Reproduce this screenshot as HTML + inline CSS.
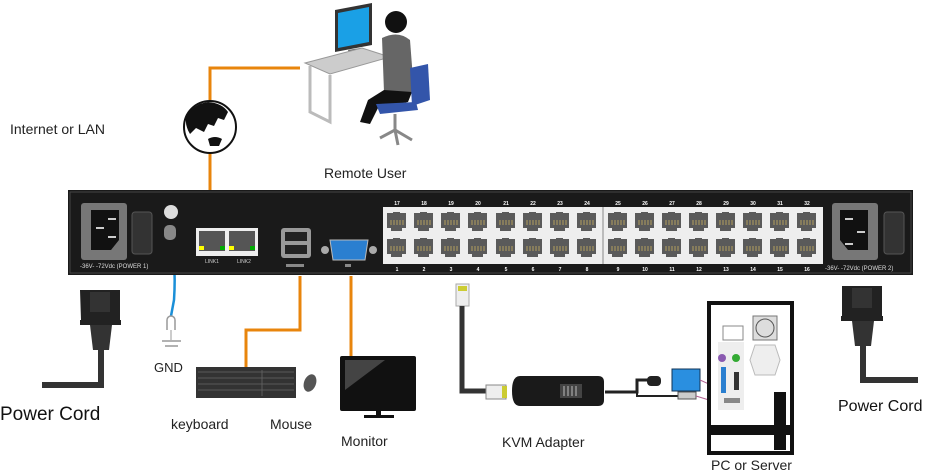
<!DOCTYPE html>
<html><head><meta charset="utf-8"><style>
html,body{margin:0;padding:0;background:#fff}
svg{display:block}
text{font-family:"Liberation Sans","DejaVu Sans",sans-serif}
</style></head><body>
<svg width="929" height="471" viewBox="0 0 929 471" xmlns="http://www.w3.org/2000/svg">
<defs>
<g id="port">
<rect x="0" y="0" width="23" height="22" fill="#eee"/>
<path d="M2 3 h6 v-1 h7 v1 h6 v15 h-4 v3 h-11 v-3 h-4z" fill="#5a5a5a"/>
<g stroke="#c8b060" stroke-width="0.8"><line x1="6" y1="10" x2="6" y2="15"/><line x1="9" y1="10" x2="9" y2="15"/><line x1="12" y1="10" x2="12" y2="15"/><line x1="15" y1="10" x2="15" y2="15"/><line x1="18" y1="10" x2="18" y2="15"/></g>
</g>
</defs>

<!-- orange connectors -->
<g stroke="#e8850c" stroke-width="3" fill="none">
<polyline points="300,68 210,68 210,100"/>
<line x1="210" y1="153" x2="210" y2="190"/>
<polyline points="246,368 246,330 300,330 300,276"/>
<line x1="351" y1="276" x2="351" y2="356"/>
</g>
<!-- blue GND wire -->
<path d="M172 240 Q176 270 174 300 L171 316" stroke="#1a8fd8" stroke-width="2.5" fill="none"/>

<!-- globe -->
<circle cx="210" cy="127" r="26" fill="#fff" stroke="#111" stroke-width="2"/>
<path d="M186 118 Q192 104 208 102 Q222 103 228 112 L224 120 L218 118 L214 126 L208 124 L204 132 L196 128 L190 134 Q185 126 186 118 Z" fill="#111"/>
<path d="M208 139 Q215 135 222 139 L219 146 L210 146 Z" fill="#111"/>
<text x="10" y="134" font-size="14" fill="#222">Internet or LAN</text>

<!-- remote user -->
<polygon points="335,10 372,3 372,45 335,52" fill="#333"/>
<polygon points="338,13 369,7 369,42 338,48" fill="#1aa0e6"/>
<polygon points="348,50 360,48 362,55 350,57" fill="#666"/>
<polygon points="305,63 362,48 390,57 330,74" fill="#ccc" stroke="#999"/>
<polyline points="310,66 310,112 330,122 330,75" fill="none" stroke="#bbb" stroke-width="3"/>
<polyline points="386,60 386,95" fill="none" stroke="#bbb" stroke-width="3"/>
<circle cx="396" cy="22" r="11" fill="#111"/>
<path d="M382 38 Q398 30 410 40 L414 92 L384 92 Z" fill="#666"/>
<path d="M384 90 L412 92 L408 102 L378 108 L370 124 L360 122 L368 100 Z" fill="#111"/>
<path d="M410 68 L428 64 L430 100 L412 106 Z" fill="#3355aa"/>
<path d="M376 104 L416 102 L418 110 L380 114 Z" fill="#3355aa"/>
<path d="M395 114 L395 130 M380 138 L395 130 L412 140 M395 130 L398 145" fill="none" stroke="#888" stroke-width="3"/>
<text x="324" y="178" font-size="14" fill="#222">Remote User</text>

<!-- main panel -->
<rect x="68" y="190" width="845" height="85" fill="#1a1a1a"/>
<rect x="70" y="192" width="841" height="81" fill="none" stroke="#444" stroke-width="1"/>
<!-- power 1 -->
<rect x="81" y="203" width="46" height="57" rx="3" fill="#777"/>
<path d="M91 210 h28 v30 l-8 10 h-20z" fill="#111"/>
<rect x="108" y="218" width="8" height="2" fill="#ccc"/><rect x="108" y="236" width="8" height="2" fill="#ccc"/><rect x="96" y="227" width="8" height="2" fill="#ccc"/>
<rect x="132" y="212" width="20" height="42" rx="3" fill="#333" stroke="#555"/>
<text x="80" y="268" font-size="6" fill="#ddd">-36V- -72Vdc (POWER 1)</text>
<circle cx="171" cy="212" r="7" fill="#ddd"/>
<rect x="164" y="225" width="12" height="15" rx="5" fill="#888"/>
<!-- LINK ports -->
<rect x="196" y="228" width="62" height="28" fill="#eee"/>
<rect x="199" y="231" width="26" height="20" fill="#555"/><rect x="229" y="231" width="26" height="20" fill="#555"/>
<rect x="199" y="246" width="5" height="4" fill="#ff0"/><rect x="220" y="246" width="5" height="4" fill="#0a0"/>
<rect x="229" y="246" width="5" height="4" fill="#ff0"/><rect x="250" y="246" width="5" height="4" fill="#0a0"/>
<text x="205" y="263" font-size="5" fill="#ccc">LINK1</text><text x="237" y="263" font-size="5" fill="#ccc">LINK2</text>
<!-- USB -->
<rect x="281" y="228" width="30" height="30" rx="3" fill="#999"/>
<rect x="285" y="232" width="22" height="9" fill="#222"/><rect x="285" y="245" width="22" height="9" fill="#222"/>
<rect x="286" y="264" width="18" height="3" fill="#888"/>
<!-- VGA -->
<circle cx="325" cy="250" r="4" fill="#aaa"/><circle cx="373" cy="250" r="4" fill="#aaa"/>
<path d="M330 240 h38 l-3 20 h-32z" fill="#2a7fd0" stroke="#bbb"/>
<rect x="345" y="264" width="6" height="3" fill="#888"/>
<!-- ports block -->
<rect x="383" y="207" width="440" height="57" fill="#eee"/>
<line x1="603" y1="207" x2="603" y2="264" stroke="#888"/>
<use href="#port" x="385" y="210"/><use href="#port" x="412" y="210"/><use href="#port" x="439" y="210"/><use href="#port" x="466" y="210"/><use href="#port" x="494" y="210"/><use href="#port" x="521" y="210"/><use href="#port" x="548" y="210"/><use href="#port" x="575" y="210"/>
<use href="#port" x="606" y="210"/><use href="#port" x="633" y="210"/><use href="#port" x="660" y="210"/><use href="#port" x="687" y="210"/><use href="#port" x="714" y="210"/><use href="#port" x="741" y="210"/><use href="#port" x="768" y="210"/><use href="#port" x="795" y="210"/>
<use href="#port" x="385" y="236"/><use href="#port" x="412" y="236"/><use href="#port" x="439" y="236"/><use href="#port" x="466" y="236"/><use href="#port" x="494" y="236"/><use href="#port" x="521" y="236"/><use href="#port" x="548" y="236"/><use href="#port" x="575" y="236"/>
<use href="#port" x="606" y="236"/><use href="#port" x="633" y="236"/><use href="#port" x="660" y="236"/><use href="#port" x="687" y="236"/><use href="#port" x="714" y="236"/><use href="#port" x="741" y="236"/><use href="#port" x="768" y="236"/><use href="#port" x="795" y="236"/>
<g font-size="5" font-weight="bold" fill="#fff" text-anchor="middle">
<text x="397" y="205">17</text><text x="424" y="205">18</text><text x="451" y="205">19</text><text x="478" y="205">20</text><text x="506" y="205">21</text><text x="533" y="205">22</text><text x="560" y="205">23</text><text x="587" y="205">24</text>
<text x="618" y="205">25</text><text x="645" y="205">26</text><text x="672" y="205">27</text><text x="699" y="205">28</text><text x="726" y="205">29</text><text x="753" y="205">30</text><text x="780" y="205">31</text><text x="807" y="205">32</text>
<text x="397" y="271">1</text><text x="424" y="271">2</text><text x="451" y="271">3</text><text x="478" y="271">4</text><text x="506" y="271">5</text><text x="533" y="271">6</text><text x="560" y="271">7</text><text x="587" y="271">8</text>
<text x="618" y="271">9</text><text x="645" y="271">10</text><text x="672" y="271">11</text><text x="699" y="271">12</text><text x="726" y="271">13</text><text x="753" y="271">14</text><text x="780" y="271">15</text><text x="807" y="271">16</text>
</g>
<!-- power 2 -->
<rect x="832" y="203" width="46" height="57" rx="3" fill="#777"/>
<path d="M840 210 h28 v40 h-20 l-8 -10z" fill="#111"/>
<rect x="845" y="218" width="8" height="2" fill="#ccc"/><rect x="845" y="243" width="8" height="2" fill="#ccc"/><rect x="857" y="231" width="8" height="2" fill="#ccc"/>
<rect x="884" y="212" width="20" height="42" rx="3" fill="#333" stroke="#555"/>
<text x="825" y="270" font-size="6" fill="#ddd">-36V- -72Vdc (POWER 2)</text>

<!-- power cord left -->
<path d="M80 290 h40 v30 h1 v5 h-41 v-5 h1z" fill="#222"/>
<rect x="90" y="292" width="20" height="20" fill="#333"/>
<path d="M90 325 h22 l-3 25 h-16z" fill="#333"/>
<polyline points="101,345 101,385 42,385" fill="none" stroke="#333" stroke-width="6"/>
<text x="0" y="420" font-size="19" fill="#111">Power Cord</text>

<!-- GND -->
<path d="M167 330 v-10 a4 4 0 0 1 8 0 v10" fill="none" stroke="#999" stroke-width="1.5"/>
<line x1="171" y1="330" x2="171" y2="340" stroke="#999"/>
<line x1="162" y1="341" x2="181" y2="341" stroke="#999" stroke-width="1.5"/>
<line x1="165" y1="346" x2="178" y2="346" stroke="#999" stroke-width="1.5"/>
<text x="154" y="372" font-size="13" fill="#222">GND</text>

<!-- keyboard & mouse -->
<rect x="196" y="367" width="100" height="31" fill="#333"/>
<g stroke="#666" stroke-width="0.8"><line x1="198" y1="372" x2="294" y2="372"/><line x1="198" y1="378" x2="294" y2="378"/><line x1="198" y1="384" x2="294" y2="384"/><line x1="198" y1="390" x2="294" y2="390"/><line x1="262" y1="370" x2="262" y2="396"/></g>
<ellipse cx="310" cy="383" rx="6" ry="9" fill="#555" transform="rotate(20 310 383)"/>
<text x="171" y="429" font-size="14" fill="#222">keyboard</text>
<text x="270" y="429" font-size="14" fill="#222">Mouse</text>

<!-- monitor -->
<rect x="340" y="356" width="76" height="55" rx="2" fill="#111"/>
<path d="M345 360 h40 l-40 30z" fill="#444"/>
<rect x="376" y="411" width="5" height="5" fill="#111"/>
<rect x="364" y="415" width="30" height="3" fill="#111"/>
<text x="341" y="446" font-size="14" fill="#222">Monitor</text>

<!-- KVM adapter -->
<rect x="456" y="284" width="13" height="22" fill="#eee" stroke="#aaa"/>
<rect x="458" y="286" width="9" height="5" fill="#cc3"/>
<polyline points="462,306 462,391 486,391" fill="none" stroke="#333" stroke-width="5"/>
<rect x="486" y="385" width="20" height="14" fill="#eee" stroke="#888"/>
<rect x="502" y="386" width="5" height="12" fill="#cc3"/>
<path d="M520 376 h78 q6 0 6 6 v18 q0 6 -6 6 h-78 q-8 0 -8 -15 q0 -15 8 -15z" fill="#1a1a1a"/>
<rect x="560" y="384" width="22" height="14" fill="#444"/>
<g stroke="#bbb" stroke-width="1"><line x1="564" y1="386" x2="564" y2="396"/><line x1="568" y1="386" x2="568" y2="396"/><line x1="572" y1="386" x2="572" y2="396"/><line x1="576" y1="386" x2="576" y2="396"/></g>
<polyline points="605,392 637,392 637,380 660,380" fill="none" stroke="#222" stroke-width="3"/>
<polyline points="637,392 637,396 680,396" fill="none" stroke="#222" stroke-width="2"/>
<rect x="647" y="376" width="14" height="10" rx="4" fill="#222"/>
<rect x="672" y="369" width="28" height="22" fill="#2a8fe0" stroke="#135"/>
<rect x="678" y="392" width="18" height="7" fill="#ccc" stroke="#555"/>
<g stroke="#b06090" stroke-width="1"><line x1="700" y1="380" x2="722" y2="390"/><line x1="696" y1="396" x2="722" y2="404"/></g>
<text x="502" y="447" font-size="14" fill="#222">KVM Adapter</text>

<!-- PC -->
<rect x="709" y="303" width="83" height="150" fill="#fff" stroke="#111" stroke-width="4"/>
<rect x="723" y="326" width="20" height="14" fill="#fff" stroke="#888"/>
<rect x="753" y="316" width="24" height="24" fill="#ddd" stroke="#777"/>
<circle cx="765" cy="328" r="9" fill="none" stroke="#555"/>
<rect x="718" y="342" width="26" height="68" fill="#eee"/>
<circle cx="722" cy="358" r="4" fill="#8a5ab0"/><circle cx="736" cy="358" r="4" fill="#3a3"/>
<rect x="721" y="367" width="5" height="26" fill="#2a7fd0"/>
<rect x="734" y="372" width="5" height="18" fill="#333"/>
<rect x="724" y="398" width="16" height="5" fill="#888"/>
<polygon points="755,345 775,345 780,360 775,375 755,375 750,360" fill="#eee" stroke="#bbb"/>
<rect x="774" y="392" width="12" height="58" fill="#111"/>
<rect x="711" y="425" width="79" height="10" fill="#111"/>
<text x="711" y="470" font-size="14" fill="#222">PC  or Server</text>

<!-- power cord right -->
<path d="M842 286 h40 v30 h1 v5 h-42 v-5 h1z" fill="#222"/>
<rect x="852" y="288" width="20" height="20" fill="#333"/>
<path d="M852 321 h22 l-3 25 h-16z" fill="#333"/>
<polyline points="863,340 863,380 918,380" fill="none" stroke="#333" stroke-width="6"/>
<text x="838" y="411" font-size="16" fill="#111">Power Cord</text>
</svg>
</body></html>
